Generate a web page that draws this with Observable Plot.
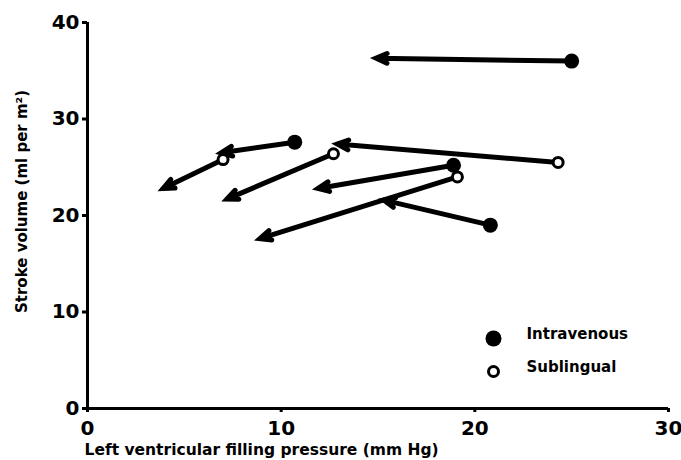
<!DOCTYPE html>
<html>
<head>
<meta charset="utf-8">
<script src="https://cdn.jsdelivr.net/npm/d3@7"></script>
<script src="https://cdn.jsdelivr.net/npm/@observablehq/plot@0.6"></script>
<style>
  body { margin: 0; background: #fff; }
  #chart { width: 681px; height: 460px; }
</style>
</head>
<body>
<div id="chart"></div>
<script>
// Data
const route = ["Intravenous", "Intravenous", "Intravenous", "Intravenous",
               "Sublingual", "Sublingual", "Sublingual", "Sublingual"];
const pressureBefore = [25.0, 10.7, 18.9, 20.8, 7.0, 12.7, 24.3, 19.1];
const volumeBefore   = [36.0, 27.6, 25.2, 19.0, 25.8, 26.4, 25.5, 24.0];
const pressureAfter  = [14.9, 6.9, 11.9, 15.3, 3.9, 7.2, 12.9, 8.9];
const volumeAfter    = [36.3, 26.5, 22.8, 21.6, 22.8, 21.7, 27.4, 17.6];
const xTicks = [0, 10, 20, 30];
const yTicks = [0, 10, 20, 30, 40];
const legendLabels = ["Intravenous", "Sublingual"];
const xTitle = "Left ventricular filling pressure (mm Hg)";
const yTitle = "Stroke volume (ml per m²)";

const data = route.map((r, i) => ({
  route: r,
  x1: pressureBefore[i], y1: volumeBefore[i],
  x2: pressureAfter[i], y2: volumeAfter[i]
}));
const iv = data.filter(d => d.route === "Intravenous");
const sl = data.filter(d => d.route === "Sublingual");

// fill the arrowhead sub-path so heads are solid triangles
function solidHeads(index, scales, values, dimensions, context, next) {
  const g = next(index, scales, values, dimensions, context);
  g.querySelectorAll("path").forEach(p => {
    p.setAttribute("fill", "#000");
    p.setAttribute("stroke-linejoin", "miter");
    p.setAttribute("stroke-miterlimit", "4");
  });
  return g;
}

const plot = Plot.plot({
  width: 681,
  height: 460,
  marginLeft: 87,
  marginRight: 13,
  marginTop: 22,
  marginBottom: 52,
  style: { fontFamily: "'DejaVu Sans', sans-serif", background: "#fff", color: "#000" },
  x: { domain: [0, 30] },
  y: { domain: [0, 40] },
  marks: [
    Plot.ruleX([0], { stroke: "#000", strokeWidth: 3 }),
    Plot.ruleY([0], { stroke: "#000", strokeWidth: 3 }),
    Plot.axisY({ ticks: yTicks, tickSize: 5, tickPadding: 3, strokeWidth: 3, fontSize: 20, fontWeight: "bold", label: null }),
    Plot.axisX({ ticks: xTicks, tickSize: 4, tickPadding: 8, strokeWidth: 3, fontSize: 20, fontWeight: "bold", label: null }),
    Plot.text([yTitle], { frameAnchor: "left", rotate: -90, dx: -65, dy: -14, fontSize: 15, fontWeight: "bold", textAnchor: "middle" }),
    Plot.text([xTitle], { frameAnchor: "bottom-left", textAnchor: "start", dx: -3, dy: 46, fontSize: 15.5, fontWeight: "bold" }),
    Plot.arrow(data, {
      x1: "x1", y1: "y1", x2: "x2", y2: "y2",
      stroke: "#000", strokeWidth: 5, headLength: 3.6, headAngle: 48,
      render: solidHeads
    }),
    Plot.dot(iv, { x: "x1", y: "y1", r: 7.5, fill: "#000", stroke: "none" }),
    Plot.dot(sl, { x: "x1", y: "y1", r: 5, fill: "#fff", stroke: "#000", strokeWidth: 3 }),
    // legend
    Plot.dot([legendLabels[0]], { frameAnchor: "bottom-right", dx: -175, dy: -70, r: 8, fill: "#000", stroke: "none" }),
    Plot.dot([legendLabels[1]], { frameAnchor: "bottom-right", dx: -175, dy: -37, r: 5, fill: "#fff", stroke: "#000", strokeWidth: 3 }),
    Plot.text([legendLabels[0]], { text: d => d, frameAnchor: "bottom-right", dx: -142, dy: -70, textAnchor: "start", fontSize: 15, fontWeight: "bold" }),
    Plot.text([legendLabels[1]], { text: d => d, frameAnchor: "bottom-right", dx: -142, dy: -37, textAnchor: "start", fontSize: 15, fontWeight: "bold" })
  ]
});
document.getElementById("chart").appendChild(plot);
</script>
</body>
</html>
